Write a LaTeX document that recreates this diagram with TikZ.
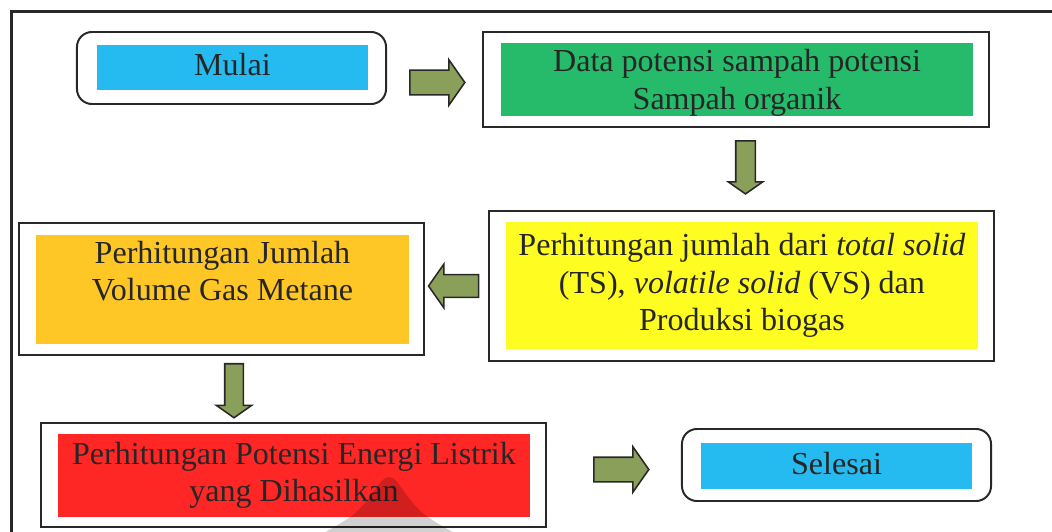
\documentclass[tikz,border=0pt]{standalone}
\usepackage{fontspec}
\setmainfont{Liberation Serif}
\definecolor{mulaiblue}{RGB}{38,187,240}
\definecolor{datagreen}{RGB}{38,187,106}
\definecolor{tsyellow}{RGB}{255,252,34}
\definecolor{gasorange}{RGB}{255,199,38}
\definecolor{listrikred}{RGB}{255,38,38}
\definecolor{arrowolive}{RGB}{138,160,90}
\definecolor{linegray}{RGB}{40,40,40}
\usepackage{tikz}
\usetikzlibrary{
	shapes.arrows,
	calc
}
\tikzset{
  % frame
	cstborder/.style   ={draw=linegray,line width=2.2pt},
  % box
	cstbox/.style      ={draw=linegray,line width=1.4pt,inner sep=0pt,outer sep=0pt},
	cstround/.style    ={cstbox,rounded corners=0.375cm},
	csttext/.style     ={inner sep=0pt,outer sep=0pt,align=center,text=black!85,
	                     font=\fontsize{22.8}{26.7}\selectfont},
	csttext1/.style    ={csttext,text height=17.1pt,text depth=5.7pt}, % one line
  % arrow
	cstblock/.style    ={single arrow,draw=linegray,fill=arrowolive,line width=1.1pt,
	                     inner xsep=0pt,outer sep=0pt,single arrow tip angle=110}
}

\begin{document}
\begin{tikzpicture}[x=0.025cm,y=-0.025cm]
	\useasboundingbox (0,0) rectangle (1052,532);
	\draw[cstborder] (11.5,11.5) rectangle (1080,560);
	% start
	\node[cstround,minimum width=7.725cm,minimum height=1.8cm] (mulai) at (231.5,68) {};
	\node[csttext1,fill=mulaiblue,minimum width=6.775cm,minimum height=1.125cm] (mulaiin) at (232.5,67.5) {Mulai};
	% data
	\node[cstbox,minimum width=12.65cm,minimum height=2.375cm] (data) at (736,79.5) {};
	\node[csttext,fill=datagreen,minimum width=11.8cm,minimum height=1.825cm] (datain) at (737,79.5)
		{\rule{0pt}{0.9em}Data potensi sampah potensi\\Sampah organik};
	% TS, VS
	\node[cstbox,minimum width=12.625cm,minimum height=3.75cm] (ts) at (741.5,286) {};
	\node[csttext,fill=tsyellow,minimum width=11.8cm,minimum height=3.175cm] (tsin) at (742,285.5)
		{Perhitungan jumlah dari \textit{total solid}\\(TS), \textit{volatile solid} (VS) dan\\Produksi biogas};
	% methane
	\node[cstbox,minimum width=10.125cm,minimum height=3.3cm] (metana) at (221.5,289) {};
	\node[csttext,fill=gasorange,minimum width=9.325cm,minimum height=2.725cm] (metanain) at (222.5,289.5)
		{Perhitungan Jumlah\\Volume Gas Metane\\\mbox{}};
	% electricity
	\node[cstbox,minimum width=12.625cm,minimum height=2.6cm] (listrik) at (293.5,475) {};
	\node[csttext,fill=listrikred,minimum width=11.8cm,minimum height=2.075cm] (listrikin) at (294,475.5)
		{Perhitungan Potensi Energi Listrik\\yang Dihasilkan};
	% end
	\node[cstround,minimum width=7.725cm,minimum height=1.8cm] (selesai) at (836.5,465) {};
	\node[csttext1,fill=mulaiblue,minimum width=6.775cm,minimum height=1.15cm] (selesaiin) at (836.5,466) {Selesai};
	% arrows
	\node[cstblock,minimum height=1.375cm,inner ysep=0.2875cm,single arrow head extend=0.2625cm] (a1) at (433,82.5) {};
	\node[cstblock,rotate=-90,minimum height=1.325cm,inner ysep=0.225cm,single arrow head extend=0.1875cm] (a2) at (745.5,164) {};
	\node[cstblock,rotate=180,minimum height=1.25cm,inner ysep=0.2625cm,single arrow head extend=0.2625cm] (a3) at (457.5,286) {};
	\node[cstblock,rotate=-90,minimum height=1.35cm,inner ysep=0.2125cm,single arrow head extend=0.2125cm] (a4) at (234,387.5) {};
	\node[cstblock,minimum height=1.375cm,inner ysep=0.2875cm,single arrow head extend=0.2625cm] (a5) at (617,469.5) {};
	% watermark
	\fill[black,opacity=.18] (389,477) .. controls (379,477) and (372,502) .. (350,517)
		.. controls (339,525) and (327,531) .. (302,545) -- (476,545)
		.. controls (451,531) and (439,525) .. (428,517)
		.. controls (406,502) and (399,477) .. cycle;
\end{tikzpicture}
\end{document}
